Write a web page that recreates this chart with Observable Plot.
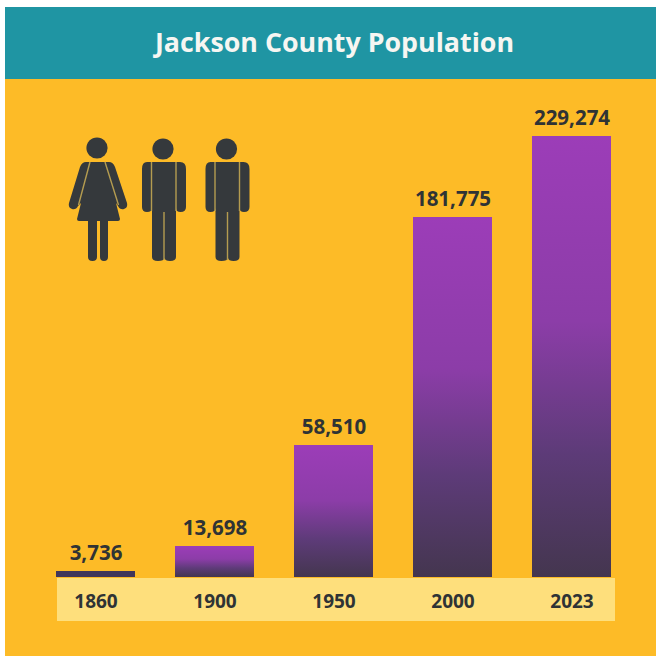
<!DOCTYPE html>
<html><head><meta charset="utf-8">
<script src="https://cdn.jsdelivr.net/npm/d3@7"></script>
<script src="https://cdn.jsdelivr.net/npm/@observablehq/plot@0.6"></script>
<style>
html,body{margin:0;padding:0;background:#fff;}
#page{position:relative;width:656px;height:656px;overflow:hidden;font-family:"Open Sans",sans-serif;}
#head{position:absolute;left:5px;top:7px;width:651px;height:72px;background:#1f95a3;color:#f6f6f2;font-weight:700;font-size:26.8px;line-height:69px;text-align:center;box-sizing:border-box;}
#head span{position:relative;left:4px;}
#panel{position:absolute;left:5px;top:79px;width:651px;height:577px;background:#fdbb27;}
#band{position:absolute;left:57px;top:578px;width:558px;height:43px;background:#fedf7c;}
#chart{position:absolute;left:0;top:0;}
#icons{position:absolute;left:0;top:0;}
#icons .sep{stroke:#b49c50;stroke-width:1.4;fill:none;}
</style></head>
<body>
<div id="page">
  <div id="head"><span>Jackson County Population</span></div>
  <div id="panel"></div>
  <div id="band"></div>
  <div id="chart"></div>
  <svg id="icons" width="656" height="656" fill="#35393c">
    <g id="woman">
      <circle cx="97" cy="148" r="10.6"/>
      <path d="M86 162 H109 Q113 162 115 167 L127 203 Q128 208 124 209 Q120 210 118 206 L116 203 L120 219 Q120 221 118 221 H108 V257 Q108 261 104 261 Q100 261 100 257 V221 H97 V257 Q97 261 92.5 261 Q88 261 88 257 V221 H79 Q77 221 77 219 L81 203 L78 206 Q76 210 72 209 Q68 208 69 203 L80 167 Q82 162 86 162 Z"/>
      <path class="sep" d="M90 162 L78.5 205 M105 162 L118.5 205"/>
    </g>
    <g id="man1">
      <circle cx="163" cy="149" r="10.6"/>
      <path d="M147 162 H180 Q186 162 186 169 V207 Q186 212 180.5 212 Q176 212 176 208 V257 Q176 261 170 261 Q165 261 164.5 258 Q164 261 158 261 Q152 261 152 257 V208 Q152 212 147 212 Q142 212 142 207 V169 Q142 162 147 162 Z"/>
      <path class="sep" d="M151.5 162 V211 M176 162 V211 M164 212 V260"/>
    </g>
    <g id="man2" transform="translate(63.5,0)">
      <circle cx="163" cy="149" r="10.6"/>
      <path d="M147 162 H180 Q186 162 186 169 V207 Q186 212 180.5 212 Q176 212 176 208 V257 Q176 261 170 261 Q165 261 164.5 258 Q164 261 158 261 Q152 261 152 257 V208 Q152 212 147 212 Q142 212 142 207 V169 Q142 162 147 162 Z"/>
      <path class="sep" d="M151.5 162 V211 M176 162 V211 M164 212 V260"/>
    </g>
  </svg>
</div>
<script>
const years = ["1860","1900","1950","2000","2023"];
const population = [3736,13698,58510,181775,229274];
const barFills = ["#41365a","url(#barGrad)","url(#barGrad)","url(#barGrad)","url(#barGrad)"];
// The source's bars are not drawn to a strictly linear scale, so the y scale is piecewise.
const yDomain = [0,3736,13698,58510,181775,229274];
const yRange = [577,571,546,445,217,136];

const rows = years.map((year,i)=>({year,population:population[i],fill:barFills[i]}));

const gradient = () => {
  const s = d3.create("svg:defs");
  const g = s.append("linearGradient").attr("id","barGrad").attr("x1",0).attr("x2",0).attr("y1",0).attr("y2",1);
  g.append("stop").attr("offset","0%").attr("stop-color","#9c3db8");
  g.append("stop").attr("offset","42%").attr("stop-color","#8c3da8");
  g.append("stop").attr("offset","72%").attr("stop-color","#5d3b78");
  g.append("stop").attr("offset","100%").attr("stop-color","#44364f");
  return s.node();
};

const chart = Plot.plot({
  width:656,height:656,
  marginTop:0,marginBottom:0,marginLeft:0,marginRight:0,
  style:{background:"transparent",fontFamily:'"Open Sans",sans-serif',overflow:"visible"},
  x:{domain:years,range:[16,652],padding:0.335,align:0.5,label:null},
  y:{type:"linear",domain:yDomain,range:yRange,label:null},
  marks:[
    gradient,
    Plot.barY(rows,{x:"year",y:"population",fill:"fill"}),
    Plot.text(rows,{x:"year",y:"population",text:d=>d3.format(",")(d.population),dy:-18,
      fontSize:20.5,fontWeight:700,fill:"#2f3335",textAnchor:"middle"}),
    Plot.axisX({anchor:"bottom",tickSize:0,label:null,fontSize:19,fontWeight:700,fill:"#2f3335",
      tickPadding:0,dy:-62,frameAnchor:"bottom"}),
    Plot.axisY({ticks:[],label:null})
  ]
});
document.getElementById("chart").append(chart);
</script>
</body></html>
